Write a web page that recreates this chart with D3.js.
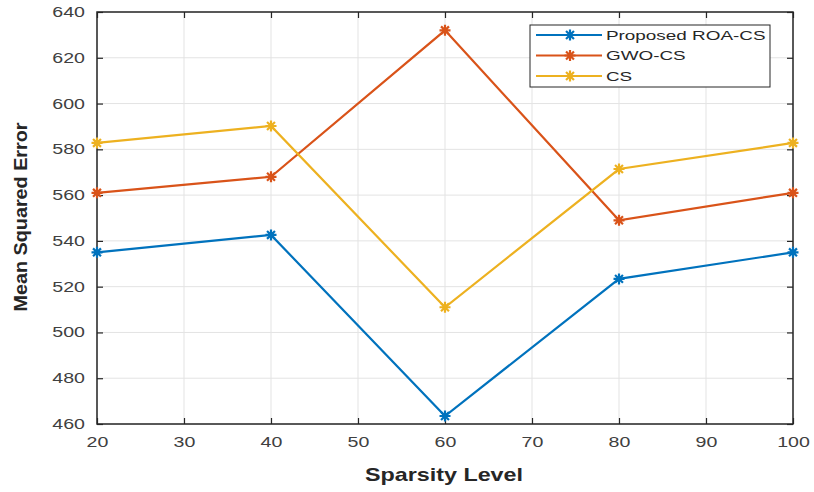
<!DOCTYPE html>
<html>
<head>
<meta charset="utf-8">
<script src="https://cdn.jsdelivr.net/npm/d3@7"></script>
<style>
  body { margin: 0; background: #fff; }
  text { font-family: "Liberation Sans", Arial, sans-serif; }
</style>
</head>
<body>
<script>
const sparsity = [20, 40, 60, 80, 100];
const roaCS = [535, 542.6, 463.5, 523.4, 535];
const gwoCS = [561, 568, 632, 549, 561];
const cs = [582.8, 590.2, 511, 571.4, 582.8];
const seriesNames = ['Proposed ROA-CS', 'GWO-CS', 'CS'];
const seriesColors = ['#0072BD', '#D95319', '#EDB120'];
const xTicks = [20, 30, 40, 50, 60, 70, 80, 90, 100];
const yTicks = [460, 480, 500, 520, 540, 560, 580, 600, 620, 640];

const W = 814, H = 492;
const m = { left: 97, right: 21, top: 12, bottom: 68 };
const SX = 1.4; // text in the picture is wider than normal

const svg = d3.select('body').append('svg')
  .attr('width', W)
  .attr('height', H);

const x = d3.scaleLinear().domain([20, 100]).range([m.left, W - m.right]);
const y = d3.scaleLinear().domain([460, 640]).range([H - m.bottom, m.top]);

// grid
svg.append('g')
  .selectAll('line')
  .data(xTicks)
  .enter().append('line')
  .attr('x1', d => x(d)).attr('x2', d => x(d))
  .attr('y1', m.top).attr('y2', H - m.bottom)
  .attr('stroke', '#e3e3e3').attr('stroke-width', 1);
svg.append('g')
  .selectAll('line')
  .data(yTicks)
  .enter().append('line')
  .attr('x1', m.left).attr('x2', W - m.right)
  .attr('y1', d => y(d)).attr('y2', d => y(d))
  .attr('stroke', '#e3e3e3').attr('stroke-width', 1);

// axes with inward ticks
const axisStyle = g => {
  g.select('.domain').remove();
  g.selectAll('.tick line').attr('stroke', '#262626').attr('stroke-width', 1.2);
  g.selectAll('.tick text')
    .attr('fill', '#404040')
    .style('font-size', '14px')
    .attr('x', function () { return +d3.select(this).attr('x') / SX; })
    .attr('transform', `scale(${SX},1)`);
};

svg.append('g')
  .attr('transform', `translate(0,${H - m.bottom})`)
  .call(d3.axisBottom(x).tickValues(xTicks).tickSize(-6).tickPadding(13))
  .call(axisStyle);
svg.append('g')
  .attr('transform', `translate(0,${m.top})`)
  .call(d3.axisTop(x).tickValues(xTicks).tickSize(-6).tickFormat(''))
  .call(axisStyle);
svg.append('g')
  .attr('transform', `translate(${m.left},0)`)
  .call(d3.axisLeft(y).tickValues(yTicks).tickSize(-6).tickPadding(12))
  .call(axisStyle);
svg.append('g')
  .attr('transform', `translate(${W - m.right},0)`)
  .call(d3.axisRight(y).tickValues(yTicks).tickSize(-6).tickFormat(''))
  .call(axisStyle);

// frame
svg.append('rect')
  .attr('x', m.left).attr('y', m.top)
  .attr('width', W - m.left - m.right)
  .attr('height', H - m.top - m.bottom)
  .attr('fill', 'none')
  .attr('stroke', '#262626')
  .attr('stroke-width', 1.5);

// asterisk marker
const star = (cx, cy, r) => {
  const d = r * 0.72;
  return `M${cx - r},${cy}L${cx + r},${cy}M${cx},${cy - r}L${cx},${cy + r}` +
    `M${cx - d},${cy - d}L${cx + d},${cy + d}M${cx - d},${cy + d}L${cx + d},${cy - d}`;
};

const allSeries = [roaCS, gwoCS, cs];
const line = d3.line().x((d, i) => x(sparsity[i])).y(d => y(d));

allSeries.forEach((vals, k) => {
  svg.append('path')
    .datum(vals)
    .attr('d', line)
    .attr('fill', 'none')
    .attr('stroke', seriesColors[k])
    .attr('stroke-width', 2.2);
  svg.append('g')
    .selectAll('path')
    .data(vals)
    .enter().append('path')
    .attr('d', (d, i) => star(x(sparsity[i]), y(d), 5.5))
    .attr('stroke', seriesColors[k])
    .attr('stroke-width', 2.2);
});

// legend
const lg = svg.append('g').attr('transform', 'translate(530,25)');
lg.append('rect')
  .attr('width', 240).attr('height', 62)
  .attr('fill', '#fff')
  .attr('stroke', '#262626').attr('stroke-width', 1);
seriesNames.forEach((name, k) => {
  const yy = 10 + k * 20.5;
  lg.append('line')
    .attr('x1', 6).attr('x2', 72)
    .attr('y1', yy).attr('y2', yy)
    .attr('stroke', seriesColors[k]).attr('stroke-width', 2.2);
  lg.append('path')
    .attr('d', star(40, yy, 5.5))
    .attr('stroke', seriesColors[k]).attr('stroke-width', 2.2);
  lg.append('text')
    .attr('x', 76 / SX).attr('y', yy + 5)
    .attr('transform', `scale(${SX},1)`)
    .attr('fill', '#262626')
    .style('font-size', '13.5px')
    .text(name);
});

// axis labels
svg.append('text')
  .attr('x', 444)
  .attr('y', 481)
  .attr('text-anchor', 'middle')
  .attr('fill', '#262626')
  .style('font-size', '19px')
  .style('font-weight', 'bold')
  .text('Sparsity Level')
  .attr('textLength', 158)
  .attr('lengthAdjust', 'spacingAndGlyphs');
svg.append('text')
  .attr('transform', 'translate(27,217) rotate(-90)')
  .attr('text-anchor', 'middle')
  .attr('fill', '#262626')
  .style('font-size', '18px')
  .style('font-weight', 'bold')
  .text('Mean Squared Error')
  .attr('textLength', 189)
  .attr('lengthAdjust', 'spacingAndGlyphs');
</script>
</body>
</html>
